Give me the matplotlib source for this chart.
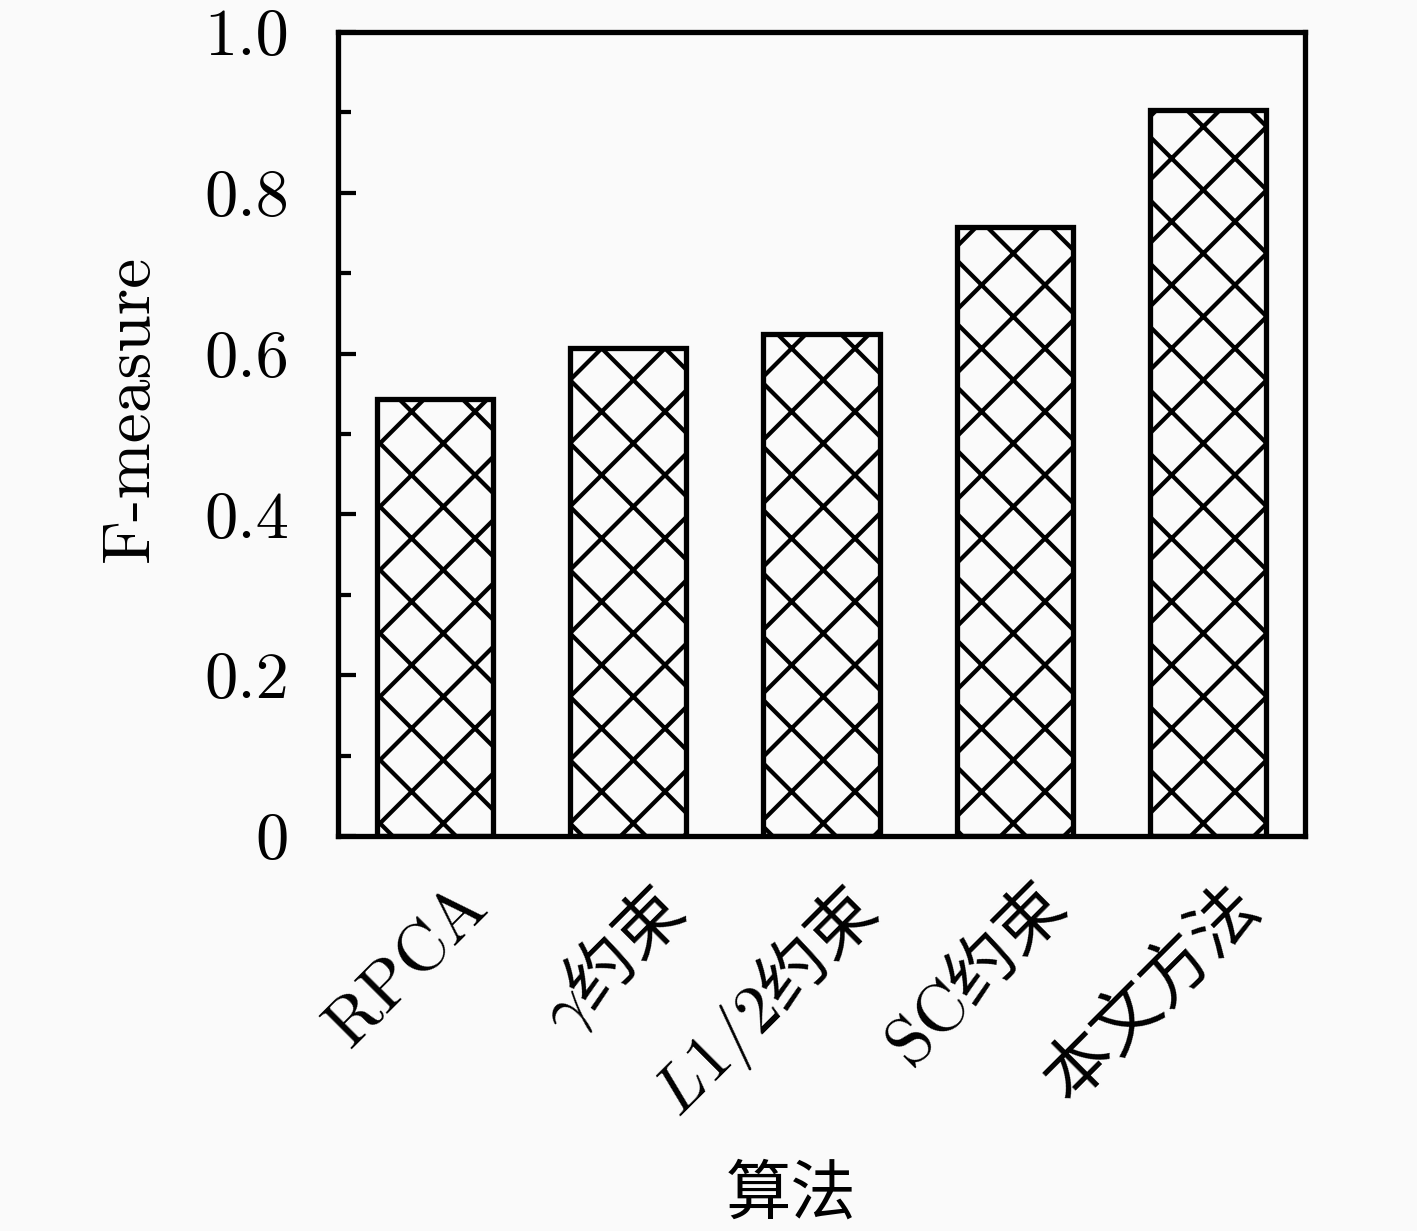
import numpy as np
import matplotlib
matplotlib.use('Agg')
import matplotlib.pyplot as plt
from matplotlib.transforms import ScaledTranslation

# 算法 / F-measure 数据
methods = [r'$\mathrm{RPCA}$', r'$\gamma$约束', r'$L1/2$约束', r'$\mathrm{SC}$约束', '本文方法']
fmeasure = [0.544, 0.607, 0.625, 0.757, 0.903]
yticks = [0, 0.2, 0.4, 0.6, 0.8, 1.0]
ytick_labels = ['0', '0.2', '0.4', '0.6', '0.8', '1.0']
yminor = [0.1, 0.3, 0.5, 0.7, 0.9]

plt.rcParams['mathtext.fontset'] = 'cm'
plt.rcParams['hatch.linewidth'] = 0.8
plt.rcParams['axes.unicode_minus'] = False

DPI = 380
fig = plt.figure(figsize=(1417 / DPI, 1231 / DPI), dpi=DPI, facecolor='#fafafa')
ax = fig.add_axes([338 / 1417, 1 - 836 / 1231, (1305 - 338) / 1417, (836 - 32) / 1231])
ax.set_facecolor('#fafafa')

x = np.arange(len(methods))
ax.bar(x, fmeasure, width=0.6, facecolor='none', edgecolor='black',
       linewidth=1.0, hatch='xx')

ax.set_xlim(-0.5, len(methods) - 0.5)
ax.set_ylim(0, 1.0)
ax.set_yticks(yticks)
ax.set_yticklabels(ytick_labels, fontfamily='cmr10', fontsize=12.6)
ax.set_yticks(yminor, minor=True)
ax.tick_params(axis='y', which='major', direction='in', length=3.5, width=0.8, pad=9.3)
ax.tick_params(axis='y', which='minor', direction='in', length=2.5, width=0.8)
ax.set_xticks(x)
ax.set_xticklabels(methods, rotation=45, ha='right', va='top',
                   rotation_mode='anchor', fontfamily='Noto Sans CJK SC', fontsize=13.0)
ax.tick_params(axis='x', length=0, pad=7)
shift = ScaledTranslation(17 / DPI, 0, fig.dpi_scale_trans)
for lbl in ax.get_xticklabels():
    lbl.set_transform(lbl.get_transform() + shift)

for s in ax.spines.values():
    s.set_linewidth(1.0)

ax.set_ylabel('F-measure', fontfamily='cmr10', fontsize=12.8)
ax.yaxis.set_label_coords((131 - 338) / 967, (836 - 408) / 804)
ax.yaxis.label.set_va('center')
ax.set_xlabel('算法', fontfamily='Noto Sans CJK SC', fontsize=12.4)
ax.xaxis.set_label_coords((791 - 338) / 967, (836 - 1195) / 804)
ax.xaxis.label.set_va('center')

fig.savefig('out.png', dpi=DPI, facecolor=fig.get_facecolor())
